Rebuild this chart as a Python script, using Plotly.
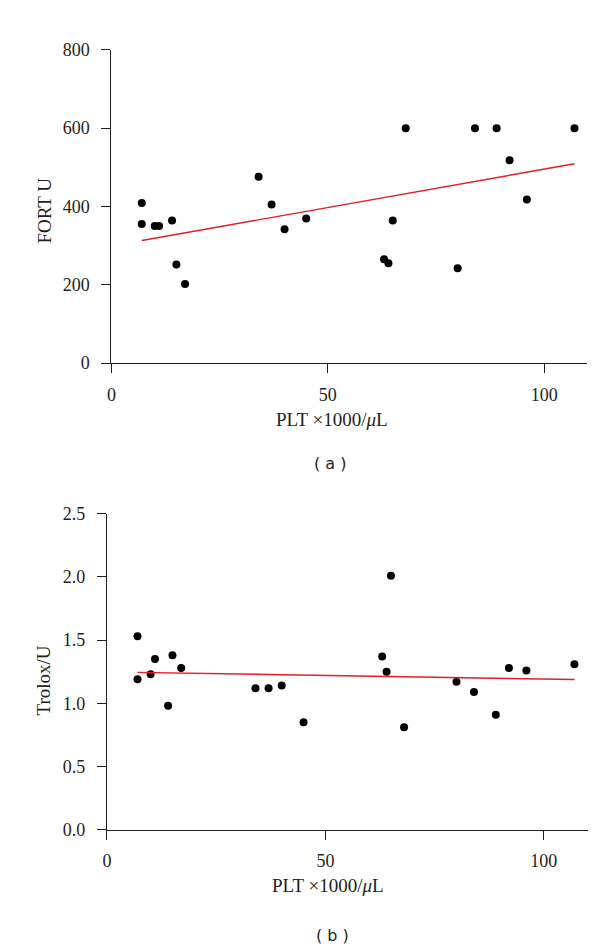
import plotly.graph_objects as go

# PLT x1000/uL values (shared by both panels)
plt_a = [7, 7, 10, 11, 14, 15, 17, 34, 37, 40, 45, 63, 64, 65, 68, 80, 84, 89, 92, 96, 107]
fort_u = [409, 355, 350, 350, 364, 252, 202, 476, 405, 342, 369, 265, 255, 364, 600, 242, 600, 600, 518, 418, 600]

plt_b = [7, 7, 10, 11, 14, 15, 17, 34, 37, 40, 45, 63, 64, 65, 68, 80, 84, 89, 92, 96, 107]
trolox_u = [1.53, 1.19, 1.23, 1.35, 0.98, 1.38, 1.28, 1.12, 1.12, 1.14, 0.85, 1.37, 1.25, 2.01, 0.81, 1.17, 1.09, 0.91, 1.28, 1.26, 1.31]

# regression line endpoints
fit_a_x = [7, 107]
fit_a_y = [313, 509]
fit_b_x = [7, 107]
fit_b_y = [1.245, 1.188]

x_ticks = [0, 50, 100]
y_ticks_a = [0, 200, 400, 600, 800]
y_ticks_b = [0, 0.5, 1.0, 1.5, 2.0, 2.5]
y_ticktext_b = ["0.0", "0.5", "1.0", "1.5", "2.0", "2.5"]

W, H = 600, 951
SERIF = "Liberation Serif, Times New Roman, serif"
INK = "#231f20"

fig = go.Figure()
fig.add_trace(go.Scatter(x=plt_a, y=fort_u, mode="markers",
                         marker=dict(color="black", size=8), xaxis="x", yaxis="y",
                         showlegend=False))
fig.add_trace(go.Scatter(x=fit_a_x, y=fit_a_y, mode="lines",
                         line=dict(color="#e31e24", width=1.4), xaxis="x", yaxis="y",
                         showlegend=False))
fig.add_trace(go.Scatter(x=plt_b, y=trolox_u, mode="markers",
                         marker=dict(color="black", size=8), xaxis="x2", yaxis="y2",
                         showlegend=False))
fig.add_trace(go.Scatter(x=fit_b_x, y=fit_b_y, mode="lines",
                         line=dict(color="#e31e24", width=1.4), xaxis="x2", yaxis="y2",
                         showlegend=False))

axis_common = dict(showgrid=False, zeroline=False, showline=True, linecolor=INK,
                   linewidth=1.2, ticks="outside", ticklen=9, tickwidth=1.2,
                   tickcolor=INK, tickfont=dict(family=SERIF, size=18, color=INK))

def px_x(p):
    return p / W

def px_y(p):
    return 1 - p / H

fig.update_layout(
    width=W, height=H,
    margin=dict(l=0, r=0, t=0, b=0),
    paper_bgcolor="white", plot_bgcolor="white",
    font=dict(family=SERIF, color=INK),
    xaxis=dict(domain=[px_x(99.3), px_x(579.3)], range=[0, 110], anchor="y",
               tickvals=x_ticks, ticklabelstandoff=6, **axis_common),
    yaxis=dict(domain=[px_y(352.5), px_y(32.5)], range=[0, 800], anchor="x",
               tickvals=y_ticks_a, ticklabelstandoff=8, **axis_common),
    xaxis2=dict(domain=[px_x(94.7), px_x(579.4)], range=[0, 110], anchor="y2",
                tickvals=x_ticks, ticklabelstandoff=6, **axis_common),
    yaxis2=dict(domain=[px_y(829), px_y(506.5)], range=[0, 2.5], anchor="x2",
                tickvals=y_ticks_b, ticktext=y_ticktext_b, ticklabelstandoff=8,
                **axis_common),
)

def ann(text, x, y, angle=0, font=None):
    fig.add_annotation(text=text, x=px_x(x), y=px_y(y), xref="paper", yref="paper",
                       showarrow=False, textangle=angle, xanchor="center",
                       yanchor="middle",
                       font=font or dict(family=SERIF, size=19, color=INK))

ann("PLT \u00d71000/<i>\u03bc</i>L", 322, 410)
ann("FORT U", 32, 197, angle=-90)
ann("( a )", 320, 455, font=dict(family="DejaVu Sans", size=16, color=INK))

ann("PLT \u00d71000/<i>\u03bc</i>L", 318, 886)
ann("Trolox/U", 31, 677, angle=-90)
ann("( b )", 322, 937, font=dict(family="DejaVu Sans", size=16, color=INK))

fig.write_html("out.html")
